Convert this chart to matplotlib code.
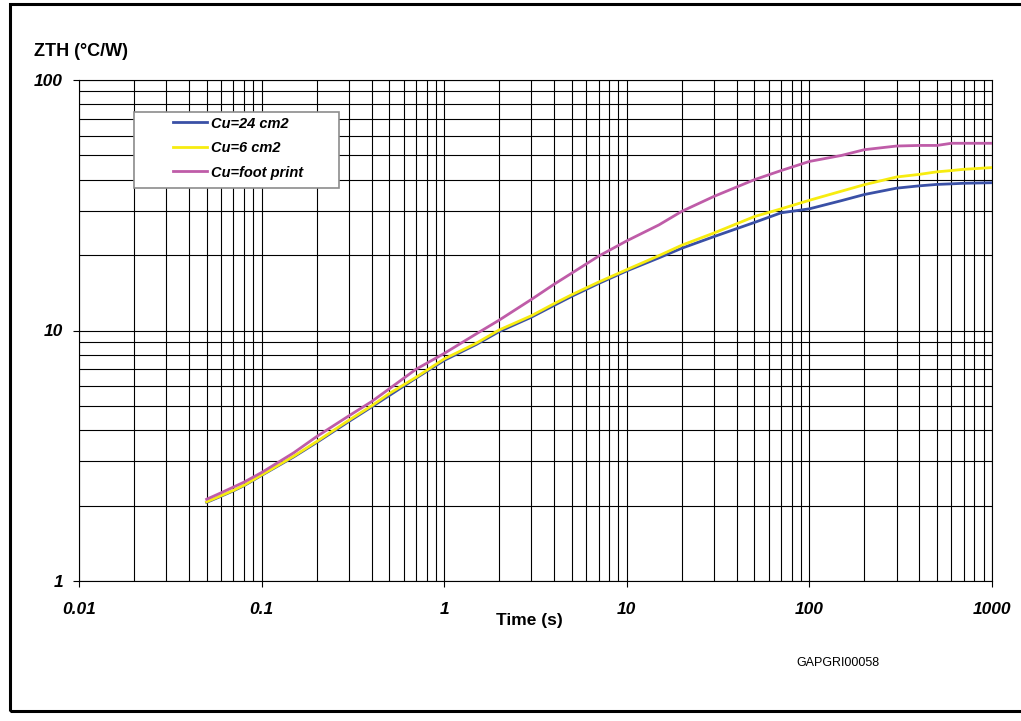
import matplotlib
matplotlib.use("Agg")
import matplotlib.pyplot as plt
import matplotlib.patches as plt_patches
from matplotlib.ticker import LogLocator, FixedLocator, FixedFormatter, NullFormatter

plt.rcParams['font.family'] = ['Liberation Sans', 'DejaVu Sans']

# time axis (s)
time_s = [0.05, 0.06, 0.07, 0.08, 0.1, 0.15, 0.2, 0.3, 0.4, 0.5, 0.7, 1, 1.5, 2, 3, 4, 5, 7,
          10, 15, 20, 30, 50, 70, 100, 150, 200, 300, 400, 500, 600, 700, 1000]

# ZTH (°C/W) per copper area
zth_cu24 = [2.06, 2.18, 2.29, 2.40, 2.64, 3.13, 3.57, 4.33, 4.95, 5.5, 6.45, 7.6, 8.8, 9.9,
            11.3, 12.6, 13.7, 15.4, 17.3, 19.5, 21.3, 23.7, 27.0, 29.5, 30.6, 33.0, 34.9,
            37.0, 37.8, 38.3, 38.5, 38.7, 38.9]
zth_cu6 = [2.07, 2.19, 2.30, 2.41, 2.65, 3.15, 3.60, 4.38, 5.0, 5.6, 6.5, 7.7, 8.9, 10.05,
           11.45, 12.8, 13.9, 15.6, 17.5, 19.9, 21.9, 24.5, 28.5, 30.6, 33.1, 36.0, 38.2,
           41.0, 42.0, 43.0, 43.5, 44.0, 44.7]
zth_foot = [2.12, 2.25, 2.37, 2.48, 2.71, 3.25, 3.77, 4.56, 5.2, 5.85, 7.0, 8.1, 9.7, 11.0,
            13.3, 15.3, 16.95, 19.8, 22.8, 26.4, 29.9, 34.3, 40.0, 43.5, 47.3, 50.0, 52.7,
            54.5, 54.8, 54.8, 55.9, 55.9, 55.9]

labels = ['Cu=24 cm2', 'Cu=6 cm2', 'Cu=foot print']
colors = ['#3a50a6', '#f7ec10', '#bf5ca8']

x_ticks = [0.01, 0.1, 1, 10, 100, 1000]
x_tick_labels = ['0.01', '0.1', '1', '10', '100', '1000']
y_ticks = [1, 10, 100]
y_tick_labels = ['1', '10', '100']

W, H = 1021, 721
fig = plt.figure(figsize=(W / 100, H / 100), dpi=100)
ax = fig.add_axes([79 / W, 1 - 581 / H, (992 - 79) / W, (581 - 80) / H])

for zth, lab, col in zip([zth_cu24, zth_cu6, zth_foot], labels, colors):
    ax.plot(time_s, zth, color=col, lw=2.0, label=lab, zorder=3)

ax.set_xscale('log')
ax.set_yscale('log')
ax.set_xlim(0.01, 1000)
ax.set_ylim(1, 100)

ax.xaxis.set_major_locator(FixedLocator(x_ticks))
ax.xaxis.set_major_formatter(FixedFormatter(x_tick_labels))
ax.yaxis.set_major_locator(FixedLocator(y_ticks))
ax.yaxis.set_major_formatter(FixedFormatter(y_tick_labels))
ax.xaxis.set_minor_locator(LogLocator(base=10, subs=range(2, 10), numticks=20))
ax.yaxis.set_minor_locator(LogLocator(base=10, subs=range(2, 10), numticks=20))
ax.xaxis.set_minor_formatter(NullFormatter())
ax.yaxis.set_minor_formatter(NullFormatter())

ax.grid(which='both', color='black', lw=0.8)
ax.tick_params(which='major', direction='out', length=4.5, width=0.8,
               top=False, right=False, labelsize=12.5)
ax.tick_params(which='minor', length=0)
ax.tick_params(axis='x', pad=10.5)
ax.tick_params(axis='y', pad=7)
for t in ax.get_xticklabels() + ax.get_yticklabels():
    t.set_fontweight('bold')
    t.set_fontstyle('italic')
for s in ax.spines.values():
    s.set_color('black')
    s.set_linewidth(0.8)

# legend box
box = plt_patches.Rectangle((134 / W, 1 - 188 / H), 205 / W, 76 / H, transform=fig.transFigure,
                            facecolor='white', edgecolor='#8c8c8c', lw=1.2, zorder=4,
                            clip_on=False)
ax.add_patch(box)
leg = ax.legend(loc='upper left', bbox_to_anchor=(172.7 / W, 1 - 116.5 / H),
                bbox_transform=fig.transFigure, frameon=False, borderpad=0,
                borderaxespad=0, handlelength=2.33, handletextpad=0.28,
                labelspacing=0.72, prop={'size': 10.5, 'weight': 'bold', 'style': 'italic'})
leg.set_zorder(5)

fig.text(34 / W, 1 - 51 / H, 'ZTH (°C/W)', fontsize=13, fontweight='bold',
         ha='left', va='center')
fig.text(529 / W, 1 - 621 / H, 'Time (s)', fontsize=12.5, fontweight='bold',
         ha='center', va='center')
fig.text(796 / W, 1 - 663 / H, 'GAPGRI00058', fontsize=9, ha='left', va='center')

# outer frame
frame = plt_patches.Rectangle((10 / W, 1 - 711 / H), 1.05, (711 - 4) / H,
                              transform=fig.transFigure, facecolor='none',
                              edgecolor='black', lw=2.2)
fig.patches.append(frame)

fig.savefig('out.png', dpi=100)
